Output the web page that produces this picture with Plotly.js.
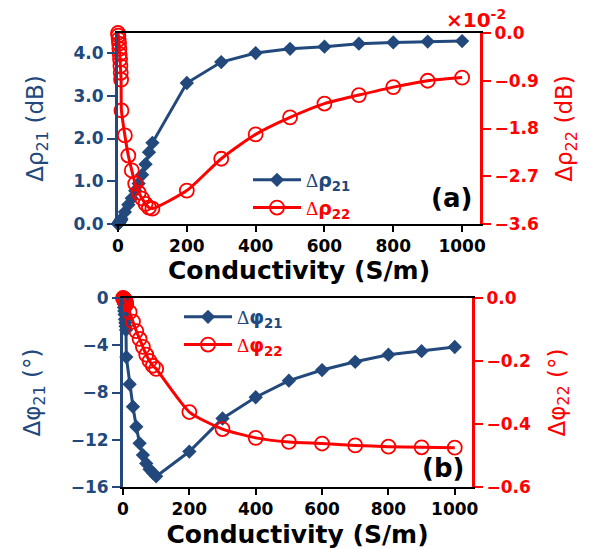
<!DOCTYPE html>
<html>
<head>
<meta charset="utf-8">
<script src="https://cdn.plot.ly/plotly-3.0.1.min.js"></script>
<style>html,body{margin:0;padding:0;background:#fff}#plot{width:597px;height:549px}</style>
</head>
<body>
<div id="plot"></div>
<script>
// Conductivity (S/m)
const conductivity = [0,1,2,3,4,5,6,7,8,9,10,20,30,40,50,60,70,80,90,100,200,300,400,500,600,700,800,900,1000];
// Panel (a): Δρ21 (dB)
const dRho21 = [0,0.01,0.02,0.03,0.04,0.05,0.06,0.08,0.09,0.1,0.12,0.28,0.45,0.6,0.78,0.95,1.15,1.4,1.68,1.9,3.3,3.79,4.0,4.1,4.15,4.22,4.25,4.27,4.28];
// Panel (a): Δρ22 (×10^-2 dB)
const dRho22 = [0,-0.05,-0.12,-0.2,-0.3,-0.4,-0.5,-0.62,-0.75,-0.88,-1.46,-1.93,-2.31,-2.59,-2.84,-3.01,-3.12,-3.22,-3.29,-3.31,-2.97,-2.37,-1.91,-1.59,-1.33,-1.17,-1.02,-0.9,-0.84];
// Panel (b): Δφ21 (°)
const dPhi21 = [0,-0.2,-0.5,-0.8,-1.1,-1.4,-1.8,-2.1,-2.4,-2.7,-5.0,-7.3,-9.2,-10.9,-12.3,-13.3,-14.0,-14.5,-14.8,-15.1,-13.0,-10.2,-8.4,-7.0,-6.1,-5.4,-4.8,-4.5,-4.15];
// Panel (b): Δφ22 (°)
const dPhi22 = [0,-0.001,-0.002,-0.003,-0.004,-0.006,-0.008,-0.01,-0.012,-0.015,-0.02,-0.045,-0.075,-0.105,-0.13,-0.155,-0.18,-0.2,-0.215,-0.225,-0.362,-0.416,-0.444,-0.457,-0.462,-0.468,-0.472,-0.474,-0.475];

const ticksA = [0,1,2,3,4];
const ticksA2 = [-3.6,-2.7,-1.8,-0.9,0];
const ticksB = [-16,-12,-8,-4,0];
const ticksB2 = [-0.6,-0.4,-0.2,0];
const ticksX = [0,200,400,600,800,1000];

const BLUE = '#22487c';
const RED = '#ff0000';
const FONT = 'DejaVu Sans, Open Sans, sans-serif';
const SERIF = 'Liberation Serif, DejaVu Serif, serif';

function blueTrace(y, name, xa, ya, lg){
  return {x: conductivity, y: y, name: name, type:'scatter', mode:'lines+markers',
    xaxis: xa, yaxis: ya, legend: lg, cliponaxis:false,
    line:{color:BLUE, width:3}, marker:{symbol:'diamond', size:11, color:BLUE}};
}
function redTrace(y, name, xa, ya, lg){
  return {x: conductivity, y: y, name: name, type:'scatter', mode:'lines+markers',
    xaxis: xa, yaxis: ya, legend: lg, cliponaxis:false,
    line:{color:RED, width:3, shape:'spline', smoothing:0.6},
    marker:{symbol:'circle-open', size:14, color:RED, line:{width:1.8, color:RED}}};
}
function legendName(sym, sub, color){
  return '<span style="color:'+color+'"><span style="font-family:'+SERIF+';font-weight:normal">Δ</span>'+sym+'<sub>'+sub+'</sub></span>';
}

const data = [
  blueTrace(dRho21, legendName('ρ','21',BLUE), 'x', 'y', 'legend'),
  redTrace(dRho22, legendName('ρ','22',RED), 'x', 'y2', 'legend'),
  blueTrace(dPhi21, legendName('φ','21',BLUE), 'x2', 'y3', 'legend2'),
  redTrace(dPhi22, legendName('φ','22',RED), 'x2', 'y4', 'legend2')
];

const tickFontBlack = {family:FONT, size:17, color:'#000', weight:'bold'};
const tickFontBlue = {family:FONT, size:17, color:BLUE, weight:'bold'};
const tickFontRed = {family:FONT, size:17, color:RED, weight:'bold'};

function xAxis(domain, anchor, standoff){
  return {domain: domain, anchor: anchor, range:[0,1052], tickvals: ticksX,
    showline:true, linecolor:'#000', linewidth:2, mirror:true,
    ticks:'outside', ticklen:6, tickwidth:2, tickcolor:'#000',
    showgrid:false, zeroline:false, tickfont: tickFontBlack,
    title:{text:'Conductivity (S/m)', font:{family:FONT, size:25, color:'#000', weight:'bold'}, standoff:standoff}};
}
function yAxis(extra, color, tickfont, title, standoff){
  return Object.assign({showline:true, linecolor:color, linewidth:3, ticks:'outside', ticklen:8, tickwidth:2, tickcolor:color,
    showgrid:false, zeroline:false, tickfont: tickfont,
    title:{text:title, font:{family:FONT, size:23, color:color}, standoff:standoff}}, extra);
}

const layout = {
  width:597, height:549, margin:{l:0,r:0,t:0,b:0},
  paper_bgcolor:'#fff', plot_bgcolor:'#fff',
  showlegend:true,
  xaxis: xAxis([118/597, 480/597], 'y', 0),
  yaxis: yAxis({domain:[1-224/549, 1-33/549], anchor:'x', range:[0,4.47], tickvals: ticksA, tickformat:'.1f'},
    BLUE, tickFontBlue, 'Δρ<sub>21</sub> (dB)', 24),
  yaxis2: yAxis({domain:[1-224/549, 1-33/549], anchor:'x', overlaying:'y', side:'right', range:[-3.6,0],
    tickvals: ticksA2, tickformat:'.1f'}, RED, tickFontRed, 'Δρ<sub>22</sub> (dB)', 19),
  xaxis2: xAxis([123/597, 472/597], 'y3', 10),
  yaxis3: yAxis({domain:[1-487/549, 1-298/549], anchor:'x2', range:[-16,0], tickvals: ticksB},
    BLUE, tickFontBlue, 'Δφ<sub>21</sub> (°)', 24),
  yaxis4: yAxis({domain:[1-487/549, 1-298/549], anchor:'x2', overlaying:'y3', side:'right', range:[-0.6,0],
    tickvals: ticksB2, tickformat:'.1f'}, RED, tickFontRed, 'Δφ<sub>22</sub> (°)', 19),
  legend: {x:248/597, y:1-161/549, xanchor:'left', yanchor:'top', bgcolor:'rgba(0,0,0,0)',
    itemwidth:48, tracegroupgap:0, font:{family:FONT, size:19, weight:'bold'}},
  legend2: {x:179/597, y:1-298/549, xanchor:'left', yanchor:'top', bgcolor:'rgba(0,0,0,0)',
    itemwidth:48, tracegroupgap:0, font:{family:FONT, size:19, weight:'bold'}},
  annotations: [
    {text:'(a)', xref:'paper', yref:'paper', x:474/597, y:1-198/549, xanchor:'right', yanchor:'middle',
     showarrow:false, font:{family:FONT, size:26, color:'#000', weight:'bold'}},
    {text:'(b)', xref:'paper', yref:'paper', x:466/597, y:1-468/549, xanchor:'right', yanchor:'middle',
     showarrow:false, font:{family:FONT, size:26, color:'#000', weight:'bold'}},
    {text:'×10<sup>-2</sup>', xref:'paper', yref:'paper', x:476/597, y:1-19/549, xanchor:'center', yanchor:'middle',
     showarrow:false, font:{family:FONT, size:20, color:RED, weight:'bold'}}
  ]
};

Plotly.newPlot('plot', data, layout, {displayModeBar:false, staticPlot:true});
</script>
</body>
</html>
